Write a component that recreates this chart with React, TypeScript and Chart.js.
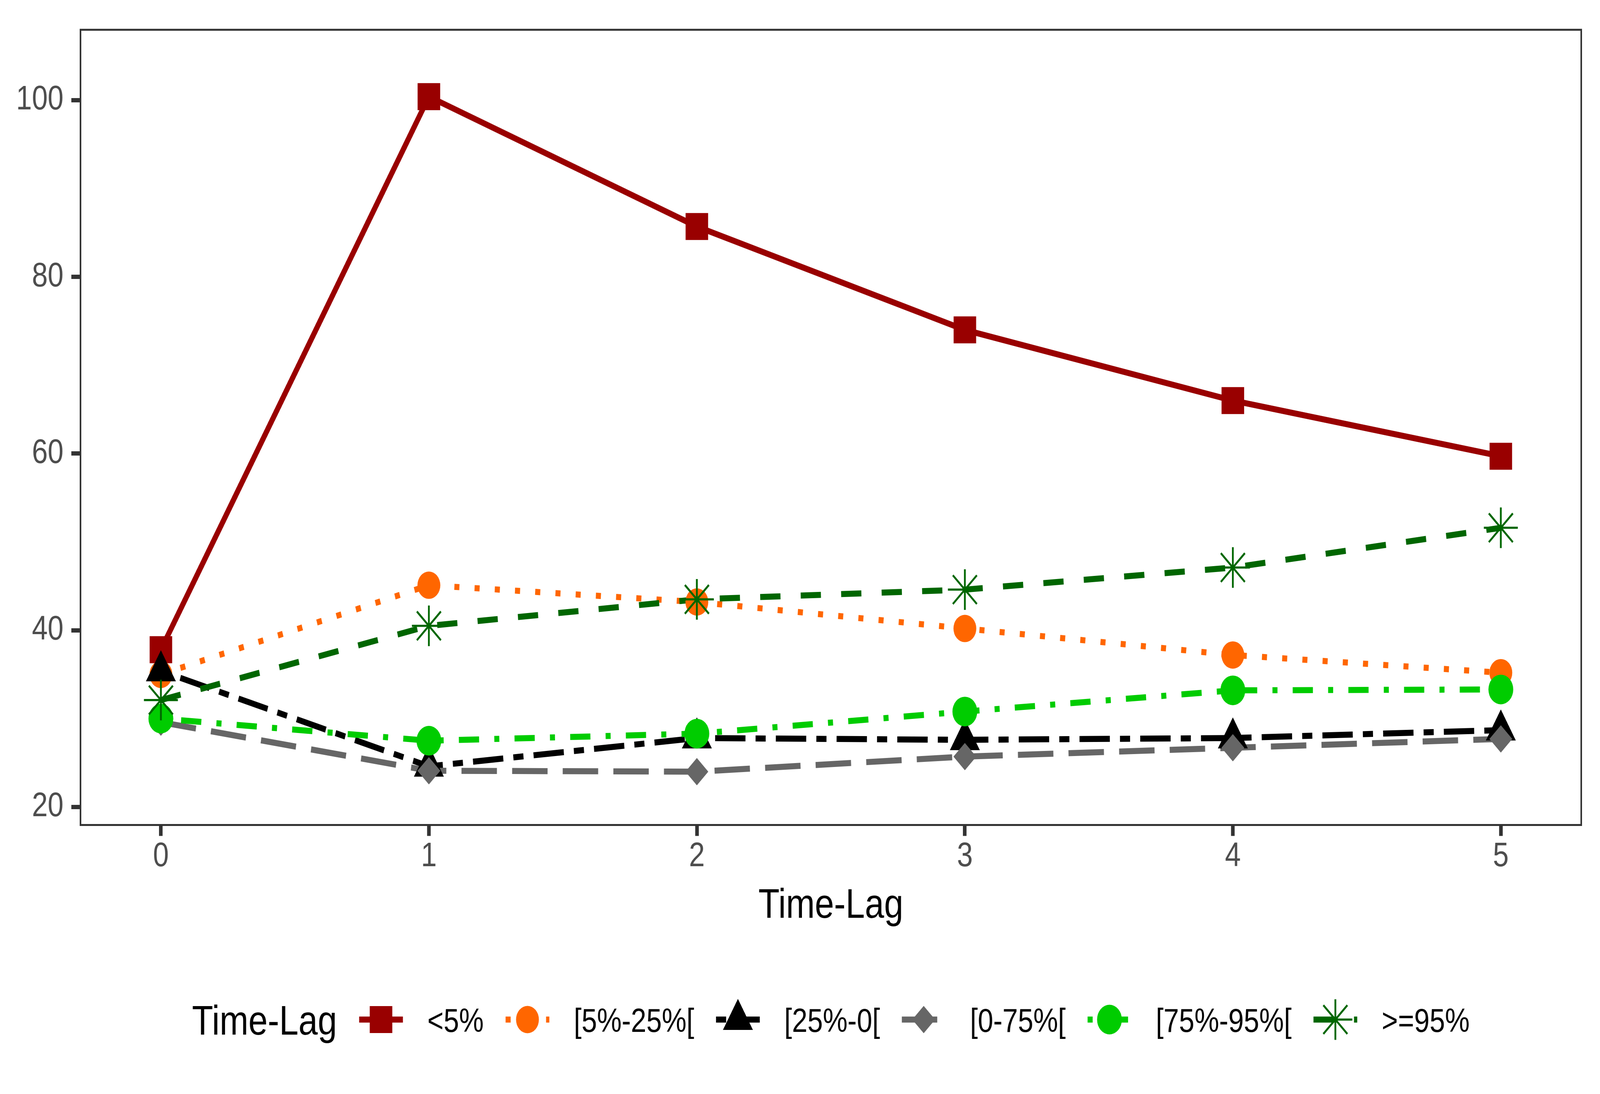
import React, { useEffect, useRef } from 'react';
import { Chart, registerables } from 'chart.js';

Chart.register(...registerables);

// ---------- data ----------
const timeLag = [0, 1, 2, 3, 4, 5];
const seriesLabels = ['<5%', '[5%-25%[', '[25%-0[', '[0-75%[', '[75%-95%[', '>=95%'];
const below5 = [37.8, 100.4, 85.7, 74.0, 66.0, 59.7];
const from5to25 = [35.0, 45.1, 43.2, 40.2, 37.2, 35.2];
const from25to0 = [35.4, 24.6, 27.8, 27.6, 27.8, 28.7];
const from0to75 = [29.6, 24.1, 24.0, 25.7, 26.7, 27.7];
const from75to95 = [30.0, 27.5, 28.3, 30.8, 33.2, 33.3];
const atLeast95 = [32.1, 40.5, 43.5, 44.6, 47.1, 51.6];
const xTickValues = [0, 1, 2, 3, 4, 5];
const yTickValues = [20, 40, 60, 80, 100];
const xAxisTitle = 'Time-Lag';
const legendTitle = 'Time-Lag';

const seriesValues = [below5, from5to25, from25to0, from0to75, from75to95, atLeast95];

// ---------- styles ----------
const W = 4900;
const H = 2800;
const FONT = '"Liberation Sans", Arial, Helvetica, sans-serif';
const LW = 15.5;
type Sty = { color: string; dash: number[]; shape: string; r: number; stroke: number };
const styles: Sty[] = [
  { color: '#990000', dash: [], shape: 'rect', r: 48.8, stroke: 0 },
  { color: '#FF6600', dash: [LW, 3 * LW], shape: 'circle', r: 35, stroke: 0 },
  { color: '#000000', dash: [2 * LW, 2 * LW, 6 * LW, 2 * LW], shape: 'triangle', r: 53, stroke: 0 },
  { color: '#666666', dash: [7 * LW, 3 * LW], shape: 'rectRot', r: 35, stroke: 0 },
  { color: '#00CC00', dash: [LW, 3 * LW, 4 * LW, 3 * LW], shape: 'circle', r: 38, stroke: 0 },
  { color: '#006600', dash: [4 * LW, 4 * LW], shape: 'star', r: 52, stroke: 5.5 },
];

function drawMarker(ctx: CanvasRenderingContext2D, s: Sty, x: number, y: number) {
  ctx.save();
  ctx.fillStyle = s.color;
  ctx.strokeStyle = s.color;
  ctx.setLineDash([]);
  const r = s.r;
  ctx.beginPath();
  if (s.shape === 'rect') {
    const h = Math.SQRT1_2 * r;
    ctx.rect(x - h, y - h, 2 * h, 2 * h);
    ctx.fill();
  } else if (s.shape === 'circle') {
    ctx.arc(x, y, r, 0, Math.PI * 2);
    ctx.fill();
  } else if (s.shape === 'triangle') {
    ctx.moveTo(x, y - r);
    ctx.lineTo(x + r * Math.sin((2 * Math.PI) / 3), y + r * 0.5);
    ctx.lineTo(x - r * Math.sin((2 * Math.PI) / 3), y + r * 0.5);
    ctx.closePath();
    ctx.fill();
  } else if (s.shape === 'rectRot') {
    ctx.moveTo(x - r, y);
    ctx.lineTo(x, y - r);
    ctx.lineTo(x + r, y);
    ctx.lineTo(x, y + r);
    ctx.closePath();
    ctx.fill();
  } else if (s.shape === 'star') {
    const d = r * Math.SQRT1_2;
    ctx.moveTo(x - r, y); ctx.lineTo(x + r, y);
    ctx.moveTo(x, y - r); ctx.lineTo(x, y + r);
    ctx.moveTo(x - d, y - d); ctx.lineTo(x + d, y + d);
    ctx.moveTo(x - d, y + d); ctx.lineTo(x + d, y - d);
    ctx.lineWidth = s.stroke;
    ctx.stroke();
  }
  ctx.restore();
}

const decorPlugin = {
  id: 'decor',
  afterDatasetsDraw(chart: any) {
    const { ctx, chartArea: a } = chart;
    ctx.save();
    ctx.strokeStyle = '#333333';
    ctx.lineWidth = 5;
    ctx.setLineDash([]);
    ctx.strokeRect(a.left, a.top, a.right - a.left, a.bottom - a.top);
    ctx.restore();
  },
  afterDraw(chart: any) {
    const { ctx, chartArea: a } = chart;
    const cx = (a.left + a.right) / 2;
    ctx.save();
    ctx.fillStyle = '#000000';
    ctx.font = `106px ${FONT}`;
    ctx.textAlign = 'center';
    ctx.textBaseline = 'alphabetic';
    ctx.fillText(xAxisTitle, cx, a.bottom + 237.5);

    // legend
    const cy = a.bottom + 498;
    const keyW = 134, gapKT = 75, gapTK = 67, gapTitle = 68;
    ctx.font = `106px ${FONT}`;
    const wTitle = ctx.measureText(legendTitle).width;
    ctx.font = `85px ${FONT}`;
    const wLabels = seriesLabels.map((l) => ctx.measureText(l).width);
    let total = wTitle + gapTitle;
    wLabels.forEach((w, i) => {
      total += keyW + gapKT + w + (i < wLabels.length - 1 ? gapTK : 0);
    });
    let x = cx - total / 2;
    ctx.textAlign = 'left';
    ctx.font = `106px ${FONT}`;
    ctx.fillText(legendTitle, x, cy + 38);
    x += wTitle + gapTitle;
    seriesLabels.forEach((lab, i) => {
      const s = styles[i];
      ctx.save();
      ctx.strokeStyle = s.color;
      ctx.lineWidth = LW;
      ctx.lineCap = 'butt';
      ctx.setLineDash(s.dash);
      ctx.lineDashOffset = 0;
      ctx.beginPath();
      ctx.moveTo(x, cy);
      ctx.lineTo(x + keyW, cy);
      ctx.stroke();
      ctx.restore();
      drawMarker(ctx, s, x + keyW / 2, cy);
      x += keyW + gapKT;
      ctx.fillStyle = '#000000';
      ctx.font = `85px ${FONT}`;
      ctx.fillText(lab, x, cy + 31);
      x += wLabels[i] + gapTK;
    });
    ctx.restore();
  },
};

export default function App() {
  const ref = useRef<HTMLCanvasElement>(null);
  useEffect(() => {
    document.body.style.margin = '0';
    document.body.style.overflow = 'hidden';
    const canvas = ref.current as HTMLCanvasElement;
    const cssW = window.innerWidth || W;
    const cssH = window.innerHeight || H;
    canvas.style.width = `${cssW}px`;
    canvas.style.height = `${cssH}px`;
    const lineSets = seriesValues.map((vals, i) => ({
      label: seriesLabels[i] + ' line',
      data: timeLag.map((t, j) => ({ x: t, y: vals[j] })),
      borderColor: styles[i].color,
      backgroundColor: styles[i].color,
      borderWidth: LW,
      borderDash: styles[i].dash,
      borderCapStyle: 'butt',
      borderJoinStyle: 'round',
      pointRadius: 0,
      pointHoverRadius: 0,
      tension: 0,
      fill: false,
      order: 20 - i,
    }));
    const pointSets = seriesValues.map((vals, i) => ({
      label: seriesLabels[i],
      data: timeLag.map((t, j) => ({ x: t, y: vals[j] })),
      showLine: false,
      pointStyle: styles[i].shape,
      pointRadius: styles[i].r,
      pointHoverRadius: styles[i].r,
      pointBackgroundColor: styles[i].shape === 'star' ? 'rgba(0,0,0,0)' : styles[i].color,
      pointBorderColor: styles[i].color,
      pointBorderWidth: styles[i].stroke,
      borderColor: styles[i].color,
      order: 10 - i,
    }));
    const chart = new Chart(canvas, {
      type: 'line',
      data: { datasets: [...lineSets, ...pointSets] as any },
      options: {
        animation: false,
        responsive: false,
        devicePixelRatio: 1,
        events: [],
        layout: { padding: { top: 55.7, right: 54, left: 0, bottom: 0 } },
        plugins: { legend: { display: false }, tooltip: { enabled: false } },
        scales: {
          x: {
            type: 'linear',
            min: -0.3,
            max: 5.3,
            afterBuildTicks: (s: any) => { s.ticks = xTickValues.map((v) => ({ value: v })); },
            afterFit: (s: any) => { s.height = 688.5; },
            grid: { display: true, drawOnChartArea: false, drawTicks: true, tickLength: 28, tickWidth: 11, tickColor: '#333333' },
            border: { display: false },
            ticks: { autoSkip: false, maxRotation: 0, padding: 1, color: '#4D4D4D', font: { family: FONT, size: 87 } },
          },
          y: {
            type: 'linear',
            min: 17.96,
            max: 107.97,
            afterBuildTicks: (s: any) => { s.ticks = yTickValues.map((v) => ({ value: v })); },
            afterFit: (s: any) => { s.width = 246.5; },
            grid: { display: true, drawOnChartArea: false, drawTicks: true, tickLength: 28, tickWidth: 11, tickColor: '#333333' },
            border: { display: false },
            ticks: { autoSkip: false, padding: 24, color: '#4D4D4D', font: { family: FONT, size: 87 } },
          },
        },
      } as any,
      plugins: [decorPlugin],
    });
    return () => chart.destroy();
  }, []);
  return (
    <div style={{ background: '#ffffff' }}>
      <canvas ref={ref} width={W} height={H} style={{ display: 'block' }} />
    </div>
  );
}
